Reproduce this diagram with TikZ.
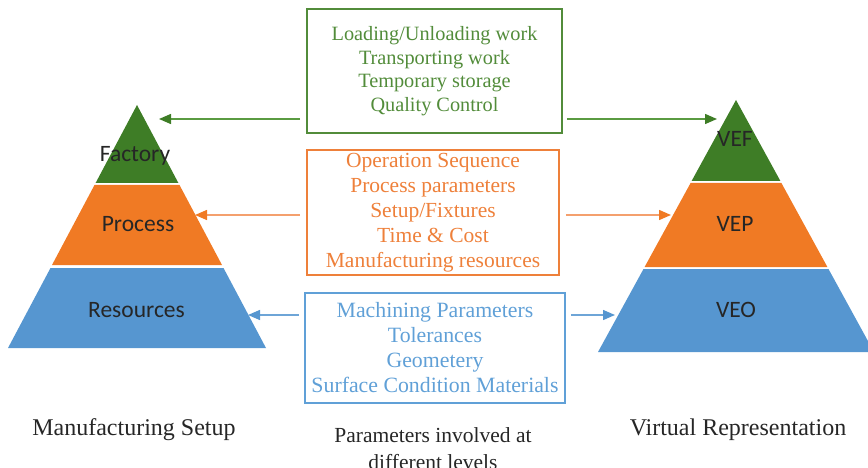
\documentclass[tikz,border=0pt]{standalone}
\usepackage{fontspec}
\setmainfont{Liberation Serif}
\newfontfamily\calibri{Carlito}
\usetikzlibrary{arrows.meta}
\definecolor{pgreen}{RGB}{62,125,38}
\definecolor{porange}{RGB}{240,122,36}
\definecolor{pblue}{RGB}{86,150,208}
\definecolor{tgreen}{RGB}{82,140,58}
\definecolor{torange}{RGB}{238,128,58}
\definecolor{tblue}{RGB}{96,160,215}
\definecolor{agreen}{RGB}{90,155,65}
\definecolor{aorange}{RGB}{244,160,110}
\definecolor{ablue}{RGB}{110,165,215}
\begin{document}
\begin{tikzpicture}[x=1pt,y=-1pt,
  lvl/.style={font=\calibri\fontsize{23.5}{27}\selectfont, text=black!85, anchor=base, inner sep=0pt},
  parambox/.style={draw, line width=1.8pt, align=center, inner sep=0pt},
  caption/.style={font=\fontsize{24}{28}\selectfont, text=black!85, anchor=base, inner sep=0pt},
  arr/.style={line width=1.4pt, -{Triangle[length=12pt,width=10pt]}}
]
\useasboundingbox (0,0) rectangle (868,468);
\clip (0,0) rectangle (868,468);

% left pyramid
\fill[pgreen] (137,105) -- (178.4,183) -- (95.6,183) -- cycle;
\fill[porange] (94.5,185) -- (179.5,185) -- (222,265) -- (52,265) -- cycle;
\fill[pblue] (50.5,268) -- (223.5,268) -- (266,348) -- (8,348) -- cycle;
% right pyramid
\fill[pgreen] (736,100) -- (780.4,181) -- (691.6,181) -- cycle;
\fill[porange] (690.6,183) -- (781.4,183) -- (827.4,267) -- (644.6,267) -- cycle;
\fill[pblue] (643.5,269) -- (828.5,269) -- (874,352) -- (598,352) -- cycle;

% pyramid labels
\node[lvl] (factory) at (135,162) {Factory};
\node[lvl] (process) at (138,232) {Process};
\node[lvl] (resources) at (136.5,317) {Resources};
\node[lvl] (vef) at (735,147) {VEF};
\node[lvl] (vep) at (735,232) {VEP};
\node[lvl] (veo) at (736,317) {VEO};

% parameter boxes
\node[parambox, draw=tgreen, text=tgreen, minimum width=255pt, minimum height=124pt,
      font=\fontsize{20.3}{23.5}\selectfont] (gbox) at (434.5,71)
  {Loading/Unloading work\\Transporting work\\Temporary storage\\Quality Control};
\node[parambox, draw=torange, text=torange, minimum width=252pt, minimum height=125pt,
      font=\fontsize{21.5}{25}\selectfont] (obox) at (433,212.5)
  {Operation Sequence\\Process parameters\\Setup/Fixtures\\Time \& Cost\\Manufacturing resources};
\node[parambox, draw=tblue, text=tblue, minimum width=260pt, minimum height=110pt,
      font=\fontsize{21.8}{25}\selectfont] (bbox) at (435,348)
  {Machining Parameters\\Tolerances\\Geometery\\Surface Condition Materials};

% arrow tips
\coordinate (gL) at (159,119);
\coordinate (gR) at (717,119);
\coordinate (oL) at (195,215);
\coordinate (oR) at (671,215);
\coordinate (bL) at (248,315);
\coordinate (bR) at (615,315);

\draw[arr, agreen, -{Triangle[length=12pt,width=10pt,color=pgreen]}, shorten <=6pt] (gbox.west |- gL) -- (gL);
\draw[arr, agreen, -{Triangle[length=12pt,width=10pt,color=pgreen]}, shorten <=4pt] (gbox.east |- gR) -- (gR);
\draw[arr, aorange, -{Triangle[length=12pt,width=10pt,color=porange]}, shorten <=6pt] (obox.west |- oL) -- (oL);
\draw[arr, aorange, -{Triangle[length=12pt,width=10pt,color=porange]}, shorten <=6pt] (obox.east |- oR) -- (oR);
\draw[arr, ablue, -{Triangle[length=12pt,width=10pt,color=pblue]}, shorten <=5pt] (bbox.west |- bL) -- (bL);
\draw[arr, ablue, -{Triangle[length=12pt,width=10pt,color=pblue]}, shorten <=5pt] (bbox.east |- bR) -- (bR);

% captions
\node[caption] (mansetup) at (134,435) {Manufacturing Setup};
\node[caption] (virtrep) at (738,435) {Virtual Representation};
\node[font=\fontsize{21.5}{27}\selectfont, text=black!85, anchor=base, inner sep=0pt, align=center] (params) at (433,469)
  {Parameters involved at\\different levels};
\end{tikzpicture}
\end{document}
